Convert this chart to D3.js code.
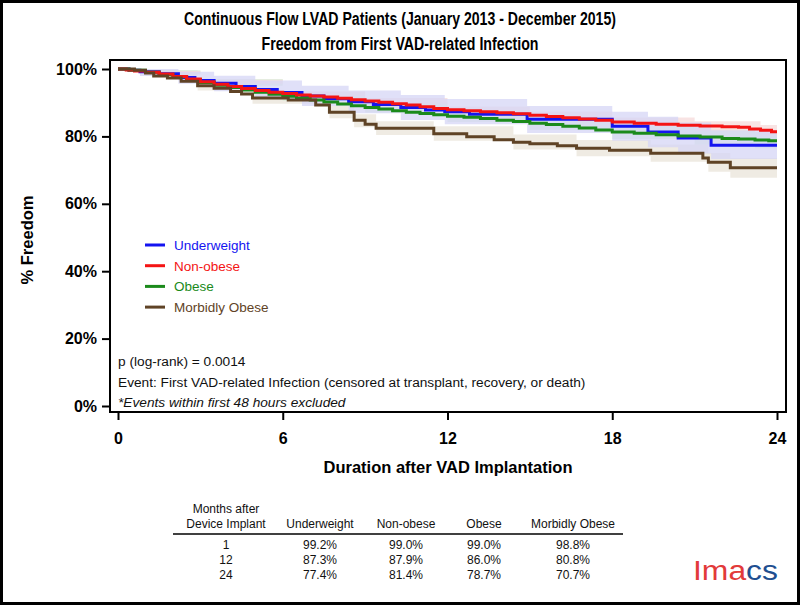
<!DOCTYPE html>
<html>
<head>
<meta charset="utf-8">
<script src="https://cdn.jsdelivr.net/npm/d3@7"></script>
<style>
  html, body { margin: 0; padding: 0; background: #fff; }
  svg { display: block; font-family: Arial, "Liberation Sans", sans-serif; }
</style>
</head>
<body>
<div id="chart"></div>
<script>
// --- data ---
var xTicks = [0, 6, 12, 18, 24];
var yTicks = [0, 20, 40, 60, 80, 100];
var groups = ["Underweight", "Non-obese", "Obese", "Morbidly Obese"];

// [month, % freedom]
var underweight = [[0,100],[0.4,99.6],[0.8,99.2],[1.5,98.6],[2.2,97.5],[2.8,96.6],[3.5,95.8],[4.3,94.8],
  [5.0,93.9],[5.8,93.0],[6.7,92.0],[7.5,91.2],[8.4,90.3],[9.3,89.5],[10.3,88.6],[11.2,87.8],[11.9,87.3],
  [12.8,86.6],[14.9,85.1],[18.0,83.0],[19.3,81.3],[20.4,79.5],[21.6,77.4]];
var nonObese = [[0,100],[0.3,99.7],[0.6,99.4],[1.0,99.0],[1.5,98.5],[2.0,97.8],[2.5,97.0],[3.0,96.2],
  [3.5,95.5],[4.0,94.8],[4.5,94.2],[5.0,93.6],[5.5,93.1],[6.0,92.7],[6.5,92.3],[7.0,92.0],[7.5,91.7],
  [8.0,91.3],[8.5,90.9],[9.0,90.5],[9.5,90.1],[10.0,89.7],[10.5,89.3],[11.0,88.8],[11.5,88.3],[12.0,87.9],
  [12.6,87.6],[13.2,87.3],[13.8,87.0],[14.4,86.7],[15.0,86.3],[15.6,85.9],[16.2,85.5],[16.8,85.2],
  [17.4,84.8],[18.0,84.3],[18.8,83.9],[19.6,83.6],[20.4,83.3],[21.2,83.1],[22.0,82.9],[22.6,82.7],
  [23.0,82.2],[23.4,81.8],[23.8,81.4]];
var obese = [[0,100],[0.4,99.6],[1.0,99.0],[1.5,98.4],[2.0,97.7],[2.5,96.9],[3.0,96.0],[3.5,95.2],
  [4.0,94.5],[4.5,93.8],[5.0,93.1],[5.5,92.5],[6.0,91.9],[6.5,91.4],[7.0,90.8],[7.5,90.2],[8.0,89.6],
  [8.5,89.1],[9.0,88.6],[9.5,88.1],[10.0,87.6],[10.5,87.2],[11.0,86.8],[11.5,86.4],[12.0,86.0],
  [12.6,85.7],[13.2,85.3],[13.8,84.8],[14.4,84.4],[15.0,83.9],[15.6,83.5],[16.2,83.0],[16.8,82.5],
  [17.4,81.9],[18.0,81.3],[18.8,80.9],[19.6,80.5],[20.4,80.1],[21.2,79.8],[22.0,79.4],[22.6,79.2],
  [23.2,78.9],[23.7,78.7]];
var morbidlyObese = [[0,100],[0.6,99.6],[1.0,98.8],[1.3,97.9],[1.8,97.3],[2.3,96.4],[2.9,95.0],
  [3.5,94.3],[4.1,93.3],[4.5,92.6],[4.9,91.4],[6.2,90.8],[7.2,89.3],[7.7,87.2],[8.6,84.8],[9.0,83.6],
  [9.4,82.4],[11.5,80.8],[12.7,79.9],[13.7,79.0],[14.4,78.3],[15.0,77.8],[16.0,77.2],[16.7,76.5],
  [17.9,75.9],[19.4,75.0],[21.3,73.6],[21.5,72.3],[22.3,70.7]];

// confidence bands [month, lower, upper]
var underweightBand = [[0,100,100],[0.8,97.9,100],[2.2,95.6,99.2],[3.5,93.4,98.0],[5.0,91.2,96.6],
  [6.7,89.0,95.0],[8.4,86.9,93.6],[10.3,84.9,92.3],[11.9,83.6,91.1],[14.9,81.0,89.0],[18.0,78.7,87.3],
  [19.3,76.8,85.8],[20.4,74.9,84.1],[21.6,73.3,81.8]];
var nonObeseBand = [[0,100,100],[1,98.6,99.4],[3,95.6,96.8],[6,91.9,93.4],[9,89.6,91.4],[12,86.9,88.9],
  [15,85.2,87.4],[18,83.0,85.6],[21,81.7,84.5],[23.4,80.2,83.4]];
var obeseBand = [[0,100,100],[1,98.4,99.6],[3,95.0,97.0],[6,90.6,93.2],[9,87.1,90.1],[12,84.3,87.7],
  [15,82.0,85.8],[18,79.2,83.4],[21,77.5,82.1],[23.2,76.5,81.3]];
var morbidlyObeseBand = [[0,100,100],[1.0,97.9,99.6],[2.9,93.6,96.4],[4.9,89.7,93.1],[7.7,85.4,89.1],
  [8.6,82.7,86.6],[9.4,80.4,84.5],[11.5,78.7,83.0],[14.4,76.1,80.6],[16.7,74.1,78.9],[19.4,72.5,77.6],
  [21.5,69.5,75.1],[22.3,67.7,73.6]];

var tableHeader = ["Underweight", "Non-obese", "Obese", "Morbidly Obese"];
var tableMonths = ["1", "12", "24"];
var tableValues = [
  ["99.2%", "99.0%", "99.0%", "98.8%"],
  ["87.3%", "87.9%", "86.0%", "80.8%"],
  ["77.4%", "81.4%", "78.7%", "70.7%"]
];

// --- drawing ---
var width = 800, height = 605;
var colors = {"Underweight": "#1414f0", "Non-obese": "#f41414", "Obese": "#1b8a1b", "Morbidly Obese": "#5f4326"};
var bandFill = {"Underweight": "#d6d6f6", "Non-obese": "#f6dcdc", "Obese": "#d8ecd8", "Morbidly Obese": "#ebe6dc"};

var series = [
  {name: "Underweight", values: underweight, band: underweightBand},
  {name: "Non-obese", values: nonObese, band: nonObeseBand},
  {name: "Obese", values: obese, band: obeseBand},
  {name: "Morbidly Obese", values: morbidlyObese, band: morbidlyObeseBand}
];

var svg = d3.select("#chart").append("svg")
  .attr("width", width)
  .attr("height", height);

svg.append("rect")
  .attr("x", 1.5).attr("y", 1.5)
  .attr("width", width - 3).attr("height", height - 3)
  .attr("fill", "#fff")
  .attr("stroke", "#000")
  .attr("stroke-width", 3);

var frame = {left: 110, top: 60, right: 786, bottom: 412};

var x = d3.scaleLinear().domain([0, 24]).range([118, 777]);
var y = d3.scaleLinear().domain([0, 100]).range([406, 69]);

// title
var title = svg.append("g")
  .attr("font-family", "'Liberation Sans Narrow', 'Arial Narrow', Arial, sans-serif")
  .attr("font-weight", "bold")
  .attr("font-size", 18)
  .attr("text-anchor", "middle");
title.append("text").attr("x", 400).attr("y", 25)
  .attr("textLength", 432).attr("lengthAdjust", "spacingAndGlyphs")
  .text("Continuous Flow LVAD Patients (January 2013 - December 2015)");
title.append("text").attr("x", 400).attr("y", 50)
  .attr("textLength", 277).attr("lengthAdjust", "spacingAndGlyphs")
  .text("Freedom from First VAD-related Infection");

// clip for the curves
svg.append("clipPath").attr("id", "plotclip")
  .append("rect")
  .attr("x", frame.left).attr("y", frame.top)
  .attr("width", frame.right - frame.left).attr("height", frame.bottom - frame.top);

var plot = svg.append("g").attr("clip-path", "url(#plotclip)");

// carry each curve out to 24 months
function extend(vals) {
  var last = vals[vals.length - 1];
  return vals.concat([[24].concat(last.slice(1))]);
}

var area = d3.area()
  .curve(d3.curveStepAfter)
  .x(function(d) { return x(d[0]); })
  .y0(function(d) { return y(d[1]); })
  .y1(function(d) { return y(d[2]); });

var line = d3.line()
  .curve(d3.curveStepAfter)
  .x(function(d) { return x(d[0]); })
  .y(function(d) { return y(d[1]); });

// bands underneath: brown, green, red, then blue on top
var bandOrder = [3, 2, 1, 0];
bandOrder.forEach(function(i) {
  var s = series[i];
  plot.append("path")
    .attr("d", area(extend(s.band)))
    .attr("fill", bandFill[s.name])
    .attr("fill-opacity", s.name == "Underweight" ? 0.75 : 0.8);
});

var lineOrder = [0, 2, 1, 3];
lineOrder.forEach(function(i) {
  var s = series[i];
  plot.append("path")
    .attr("d", line(extend(s.values)))
    .attr("fill", "none")
    .attr("stroke", colors[s.name])
    .attr("stroke-width", 3);
});

// frame
svg.append("rect")
  .attr("x", frame.left).attr("y", frame.top)
  .attr("width", frame.right - frame.left).attr("height", frame.bottom - frame.top)
  .attr("fill", "none")
  .attr("stroke", "#000")
  .attr("stroke-width", 2);

// axes
var yAxis = svg.append("g")
  .attr("transform", "translate(" + frame.left + ",0)")
  .call(d3.axisLeft(y).tickValues(yTicks).tickSize(8).tickPadding(5)
    .tickFormat(function(d) { return d + "%"; }));
var xAxis = svg.append("g")
  .attr("transform", "translate(0," + frame.bottom + ")")
  .call(d3.axisBottom(x).tickValues(xTicks).tickSize(8).tickPadding(13));

[yAxis, xAxis].forEach(function(ax) {
  ax.select(".domain").remove();
  ax.selectAll(".tick line").attr("stroke", "#000").attr("stroke-width", 2);
  ax.selectAll(".tick text")
    .attr("fill", "#000")
    .attr("font-family", "Arial, 'Liberation Sans', sans-serif")
    .attr("font-size", 16)
    .attr("font-weight", "bold");
});

// axis titles
svg.append("text")
  .attr("x", 448).attr("y", 473)
  .attr("text-anchor", "middle")
  .attr("font-size", 16.5).attr("font-weight", "bold")
  .text("Duration after VAD Implantation");
svg.append("text")
  .attr("transform", "translate(33,240) rotate(-90)")
  .attr("text-anchor", "middle")
  .attr("font-size", 16.5).attr("font-weight", "bold")
  .text("% Freedom");

// legend
var legend = svg.append("g");
groups.forEach(function(g, i) {
  var ly = 245 + i * 20.7;
  legend.append("line")
    .attr("x1", 145).attr("x2", 165)
    .attr("y1", ly).attr("y2", ly)
    .attr("stroke", colors[g]).attr("stroke-width", 3);
  legend.append("text")
    .attr("x", 174).attr("y", ly + 5)
    .attr("font-size", 13.5)
    .attr("fill", colors[g])
    .text(g);
});

// notes
var notes = svg.append("g").attr("font-size", 13.7).attr("fill", "#111");
notes.append("text").attr("x", 118).attr("y", 366).text("p (log-rank) = 0.0014");
notes.append("text").attr("x", 118).attr("y", 387)
  .text("Event: First VAD-related Infection (censored at transplant, recovery, or death)");
notes.append("text").attr("x", 118).attr("y", 407).attr("font-style", "italic")
  .text("*Events within first 48 hours excluded");

// summary table
var colX = [226, 320, 406, 484, 573];
var table = svg.append("g").attr("font-size", 12).attr("text-anchor", "middle").attr("fill", "#111");
table.append("text").attr("x", colX[0]).attr("y", 513).text("Months after");
table.append("text").attr("x", colX[0]).attr("y", 528).text("Device Implant");
tableHeader.forEach(function(h, j) {
  table.append("text").attr("x", colX[j + 1]).attr("y", 528).text(h);
});
table.append("line")
  .attr("x1", 173).attr("x2", 623)
  .attr("y1", 534).attr("y2", 534)
  .attr("stroke", "#000").attr("stroke-width", 1.5);
tableMonths.forEach(function(m, i) {
  var ry = 549 + i * 15;
  table.append("text").attr("x", colX[0]).attr("y", ry).text(m);
  tableValues[i].forEach(function(v, j) {
    table.append("text").attr("x", colX[j + 1]).attr("y", ry).text(v);
  });
});

// logo
var logo = svg.append("text")
  .attr("x", 693).attr("y", 580)
  .attr("font-size", 27)
  .attr("textLength", 85).attr("lengthAdjust", "spacingAndGlyphs");
logo.append("tspan").attr("fill", "#e23a3a").text("Im");
logo.append("tspan").attr("fill", "#e23a3a").text("a");
logo.append("tspan").attr("fill", "#1f4f90").text("cs");
</script>
</body>
</html>
